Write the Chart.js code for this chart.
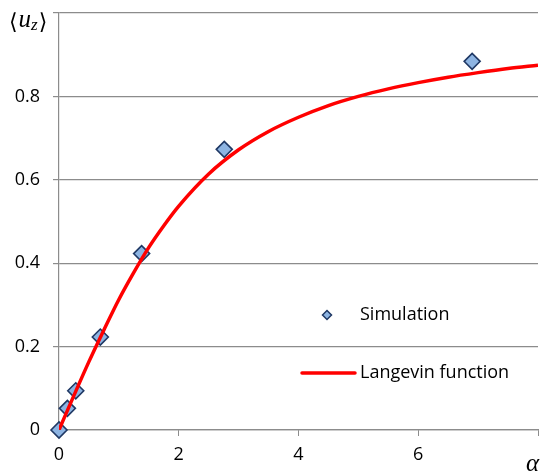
<!DOCTYPE html>
<html>
<head>
<meta charset="utf-8">
<script src="https://cdn.jsdelivr.net/npm/chart.js@4/dist/chart.umd.min.js"></script>
<style>
  html, body { margin: 0; padding: 0; background: #ffffff; }
  canvas { display: block; }
</style>
</head>
<body>
<canvas id="c" width="542" height="475"></canvas>
<script>
// ---- data ----
const simAlpha = [0, 0.14, 0.28, 0.69, 1.38, 2.76, 6.9];
const simUz    = [0, 0.052, 0.094, 0.223, 0.423, 0.673, 0.884];

const langAlpha = [0, 0.25, 0.5, 0.75, 1, 1.25, 1.5, 1.75, 2, 2.5, 3, 3.5, 4, 4.5, 5, 5.5, 6, 6.5, 7, 7.5, 8];
const langUz    = [0, 0.083, 0.164, 0.24, 0.313, 0.378, 0.438, 0.49, 0.537, 0.614, 0.672, 0.716, 0.75, 0.778, 0.8, 0.818, 0.833, 0.846, 0.857, 0.867, 0.875];

const xTicks = [0, 2, 4, 6, 8];
const yTicks = [0, 0.2, 0.4, 0.6, 0.8, 1];

const seriesNames = ['Simulation', 'Langevin function'];
const yAxisTitle = { open: '\u27E8', base: 'u', sub: 'z', close: '\u27E9' };
const xAxisTitle = '\u03B1';

const GRID = '#8c8c8c';
const TEXT_FONT = '"Open Sans", "Liberation Sans", sans-serif';
const MARKER_FILL = '#8db4e2';
const MARKER_EDGE = '#1f3864';
const LINE_RED = '#ff0000';

const simPoints = simAlpha.map((a, i) => ({ x: a, y: simUz[i] }));
const langPoints = langAlpha.map((a, i) => ({ x: a, y: langUz[i] }));

const overlayPlugin = {
  id: 'overlay',
  afterDraw(chart) {
    const ctx = chart.ctx;
    const xs = chart.scales.x, ys = chart.scales.y;
    ctx.save();
    const yTop = ys.getPixelForValue(1);
    let x = 9;
    const base = yTop + 14;
    ctx.fillStyle = '#000';
    ctx.textBaseline = 'alphabetic';
    ctx.textAlign = 'left';
    ctx.font = '22px "DejaVu Serif", serif';
    ctx.fillText(yAxisTitle.open, x, base + 2);
    x += ctx.measureText(yAxisTitle.open).width + 1;
    ctx.font = 'italic 25px "Liberation Serif", serif';
    ctx.fillText(yAxisTitle.base, x, base);
    x += ctx.measureText(yAxisTitle.base).width;
    ctx.font = 'italic 17px "Liberation Serif", serif';
    ctx.fillText(yAxisTitle.sub, x, base + 3);
    x += ctx.measureText(yAxisTitle.sub).width + 1;
    ctx.font = '22px "DejaVu Serif", serif';
    ctx.fillText(yAxisTitle.close, x, base + 2);

    ctx.font = 'italic 25px "Liberation Serif", serif';
    ctx.fillText(xAxisTitle, xs.getPixelForValue(8) - 12, 471);

    ctx.font = '18px ' + TEXT_FONT;
    ctx.textBaseline = 'middle';
    const mx = 327, my = 315, r = 4.5;
    ctx.beginPath();
    ctx.moveTo(mx - r, my); ctx.lineTo(mx, my - r); ctx.lineTo(mx + r, my); ctx.lineTo(mx, my + r); ctx.closePath();
    ctx.fillStyle = MARKER_FILL; ctx.fill();
    ctx.lineWidth = 1.5; ctx.strokeStyle = MARKER_EDGE; ctx.stroke();
    ctx.fillStyle = '#000';
    ctx.fillText(seriesNames[0], 360, 315);
    ctx.beginPath();
    ctx.moveTo(302, 373); ctx.lineTo(355, 373);
    ctx.lineWidth = 3.5; ctx.strokeStyle = LINE_RED; ctx.lineCap = 'round'; ctx.stroke();
    ctx.fillStyle = '#000';
    ctx.fillText(seriesNames[1], 360, 373);
    ctx.restore();
  }
};

new Chart(document.getElementById('c'), {
  type: 'scatter',
  data: {
    datasets: [
      {
        label: seriesNames[1],
        data: langPoints,
        showLine: true,
        borderColor: LINE_RED,
        borderWidth: 3.5,
        pointRadius: 0,
        pointHoverRadius: 0,
        tension: 0.4,
        cubicInterpolationMode: 'monotone',
        fill: false,
        order: 0
      },
      {
        label: seriesNames[0],
        data: simPoints,
        showLine: false,
        pointStyle: 'rectRot',
        pointRadius: 8,
        pointBackgroundColor: MARKER_FILL,
        pointBorderColor: MARKER_EDGE,
        pointBorderWidth: 1.6,
        clip: false,
        order: 1
      }
    ]
  },
  options: {
    responsive: false,
    animation: false,
    devicePixelRatio: 1,
    layout: { autoPadding: false, padding: { top: 13, right: 4, left: 0, bottom: 0 } },
    plugins: { legend: { display: false }, tooltip: { enabled: false } },
    scales: {
      x: {
        type: 'linear',
        min: 0, max: 8,
        afterFit(s) { s.height = 45; s.paddingLeft = 0; s.paddingRight = 0; },
        afterBuildTicks(s) { s.ticks = xTicks.map(v => ({ value: v })); },
        ticks: {
          padding: 8,
          color: '#000',
          font: { family: TEXT_FONT, size: 18 },
          maxRotation: 0,
          callback: v => (v === 8 ? '' : String(v))
        },
        grid: { drawOnChartArea: false, drawTicks: true, tickLength: 6, color: GRID, tickColor: GRID, lineWidth: 1 },
        border: { display: true, color: GRID, width: 1.2 }
      },
      y: {
        type: 'linear',
        min: 0, max: 1,
        afterFit(s) { s.width = 59; s.paddingTop = 0; s.paddingBottom = 0; },
        afterBuildTicks(s) { s.ticks = yTicks.map(v => ({ value: v })); },
        ticks: {
          padding: 13,
          color: '#000',
          font: { family: TEXT_FONT, size: 18 },
          callback: v => (v === 1 ? '' : (v === 0 ? '0' : v.toFixed(1)))
        },
        grid: { drawOnChartArea: true, drawTicks: true, tickLength: 6, color: GRID, tickColor: GRID, lineWidth: 1.2 },
        border: { display: true, color: GRID, width: 1.2 }
      }
    }
  },
  plugins: [overlayPlugin]
});
</script>
</body>
</html>
